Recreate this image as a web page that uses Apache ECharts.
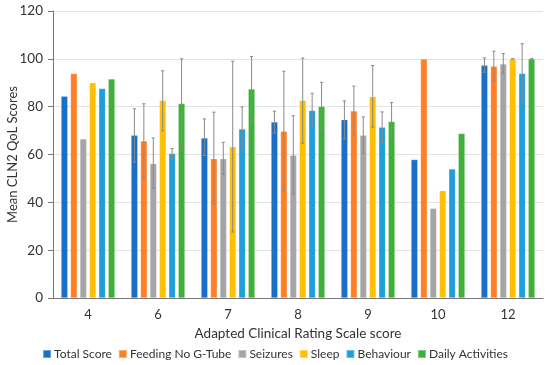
<!DOCTYPE html>
<html>
<head>
<meta charset="utf-8">
<script src="https://cdn.jsdelivr.net/npm/echarts@6/dist/echarts.min.js"></script>
<style>html,body{margin:0;padding:0;background:#fff}#c{width:550px;height:365px}</style>
</head>
<body>
<div id="c"></div>
<script>
const categories = ['4', '6', '7', '8', '9', '10', '12'];
const seriesNames = ['Total Score', 'Feeding No G-Tube', 'Seizures', 'Sleep', 'Behaviour', 'Daily Activities'];
const colors = ['#1a70c8', '#ff7f27', '#a5a5a5', '#ffc000', '#1e9fdc', '#40b03c'];

const totalScore = [84.4, 68.1, 66.9, 73.6, 74.6, 57.9, 97.3];
const feeding = [93.9, 65.7, 58.2, 69.7, 78.2, 100, 96.9];
const seizures = [66.5, 56.2, 58.2, 59.7, 68.1, 37.5, 97.9];
const sleep = [90.0, 82.6, 63.3, 82.6, 84.2, 44.9, 100];
const behaviour = [87.6, 60.4, 70.7, 78.4, 71.4, 54.0, 93.9];
const daily = [91.6, 81.3, 87.4, 80.1, 73.8, 68.8, 100];

// error bar bounds [low, high]; null = no error bar
const totalErr = [null, [56.8, 79.1], [59.6, 74.9], [69.0, 78.1], [66.5, 82.4], null, [94.4, 100.4]];
const feedingErr = [null, [49.9, 81.2], [39.2, 77.7], [44.9, 94.8], [67.8, 88.6], null, [90.7, 103.2]];
const seizuresErr = [null, [45.9, 66.9], [51.7, 65.1], [43.5, 76.2], [60.5, 75.7], null, [93.7, 102.2]];
const sleepErr = [null, [69.9, 95.0], [27.6, 99.0], [64.7, 100.3], [71.4, 97.2], null, [100, 100]];
const behaviourErr = [null, [58.3, 62.5], [61.5, 79.9], [71.4, 85.6], [65.0, 77.8], null, [81.2, 106.3]];
const dailyErr = [null, [62.5, 100], [74.1, 101.0], [70.2, 90.2], [66.1, 81.7], null, [100, 100]];

const yTicks = [0, 20, 40, 60, 80, 100, 120];

const values = [totalScore, feeding, seizures, sleep, behaviour, daily];
const errs = [totalErr, feedingErr, seizuresErr, sleepErr, behaviourErr, dailyErr];

const CAT_GAP = 0.23, BAR_GAP = 0.4, N = 6;
const font = 'Lato, "Open Sans", sans-serif';

const series = [];
values.forEach((v, i) => {
  series.push({
    name: seriesNames[i], type: 'bar', data: v,
    barGap: '40%', barCategoryGap: '23%',
    itemStyle: { color: colors[i], borderColor: 'rgba(255,255,255,0.35)', borderWidth: 0.6 },
    z: 2
  });
});
errs.forEach((e, i) => {
  const data = [];
  e.forEach((r, k) => { if (r) data.push([k, r[0], r[1]]); });
  series.push({
    type: 'custom', name: seriesNames[i] + ' err', z: 5, silent: true,
    encode: { x: 0, y: [1, 2] },
    data: data,
    renderItem: function (params, api) {
      const k = api.value(0);
      const lo = api.coord([k, api.value(1)]);
      const hi = api.coord([k, api.value(2)]);
      const band = api.size([1, 0])[0];
      const w = band * (1 - CAT_GAP) / (N + (N - 1) * BAR_GAP);
      const total = w * (N + (N - 1) * BAR_GAP);
      const x = lo[0] - total / 2 + i * w * (1 + BAR_GAP) + w / 2;
      const cap = 1.6;
      const st = { stroke: '#8a8a8a', lineWidth: 1 };
      return { type: 'group', children: [
        { type: 'line', shape: { x1: x, y1: lo[1], x2: x, y2: hi[1] }, style: st },
        { type: 'line', shape: { x1: x - cap, y1: lo[1], x2: x + cap, y2: lo[1] }, style: st },
        { type: 'line', shape: { x1: x - cap, y1: hi[1], x2: x + cap, y2: hi[1] }, style: st }
      ]};
    }
  });
});

const chart = echarts.init(document.getElementById('c'), null, { renderer: 'canvas' });
chart.setOption({
  animation: false,
  textStyle: { fontFamily: font },
  grid: { left: 53, right: 7, top: 11, bottom: 67, containLabel: false, outerBoundsMode: 'none' },
  legend: {
    data: seriesNames, bottom: 0, left: 'center',
    itemWidth: 8, itemHeight: 8, itemGap: 6, icon: 'rect',
    textStyle: { fontSize: 12, color: '#333', fontFamily: font, padding: [0, 0, 0, -2] }
  },
  xAxis: {
    type: 'category', data: categories,
    name: 'Adapted Clinical Rating Scale score', nameLocation: 'middle', nameGap: 29,
    nameMoveOverlap: false,
    nameTextStyle: { fontSize: 13.5, color: '#333', fontFamily: font },
    axisLine: { lineStyle: { color: '#777' } },
    axisTick: { show: false },
    axisLabel: { fontSize: 13, color: '#333', margin: 10, fontFamily: font }
  },
  yAxis: {
    type: 'value', min: yTicks[0], max: yTicks[yTicks.length - 1], interval: 20,
    name: 'Mean CLN2 QoL Scores', nameLocation: 'middle', nameGap: 34,
    nameMoveOverlap: false,
    nameTextStyle: { fontSize: 13, color: '#333', fontFamily: font },
    axisLine: { show: true, lineStyle: { color: '#777' } },
    axisTick: { show: true, inside: false, length: 5, lineStyle: { color: '#777' } },
    axisLabel: { fontSize: 13.5, color: '#333', margin: 10, fontFamily: font },
    splitLine: { lineStyle: { color: '#e3e3e3' } }
  },
  series: series
});
</script>
</body>
</html>
